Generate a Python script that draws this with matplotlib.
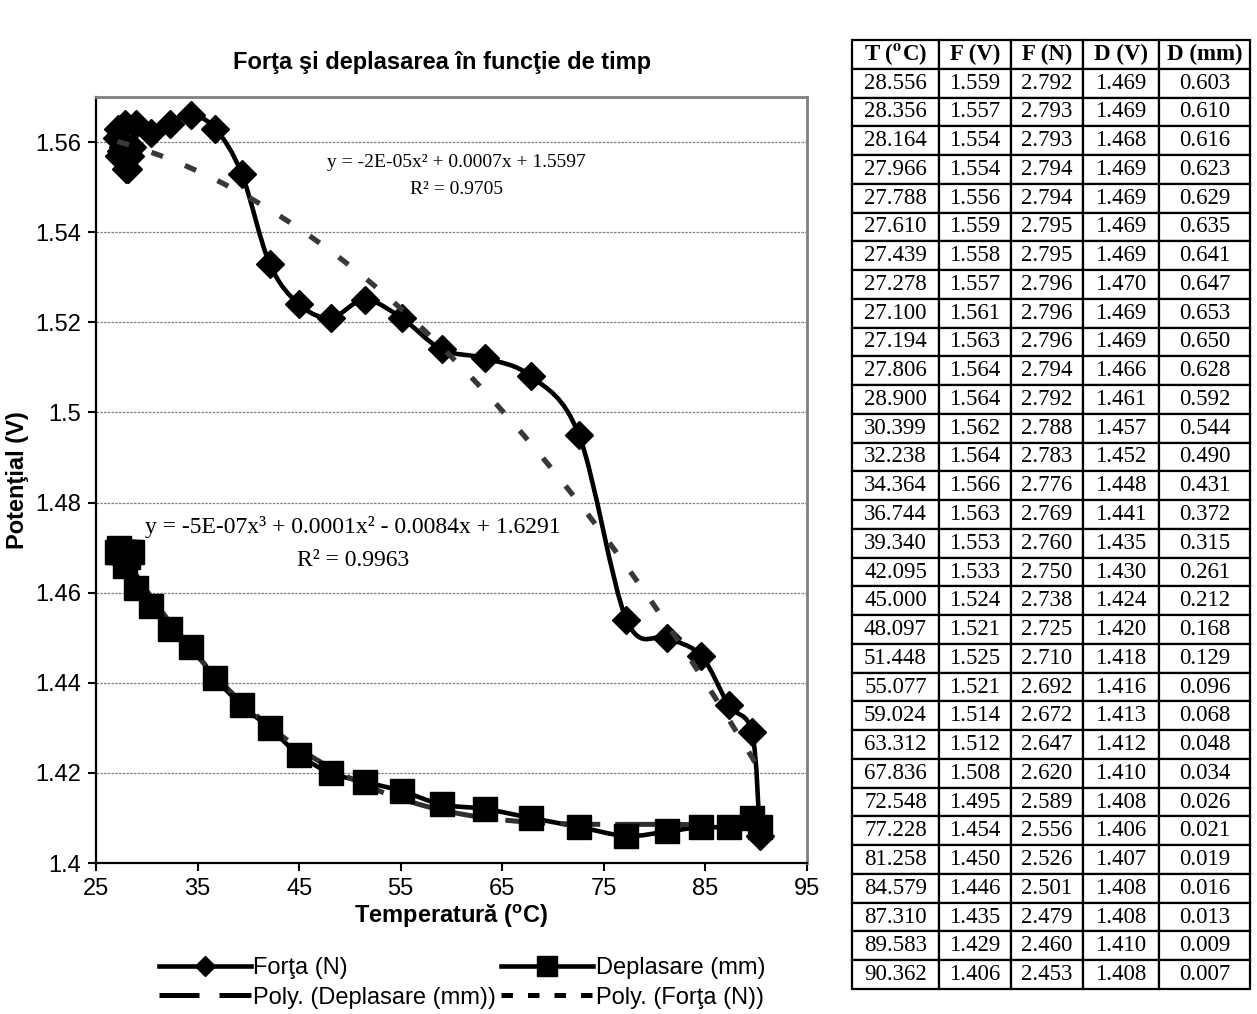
import numpy as np
import matplotlib
matplotlib.use('Agg')
import matplotlib.pyplot as plt
from matplotlib.path import Path
from matplotlib.patches import PathPatch
from matplotlib.lines import Line2D
from matplotlib.ticker import FuncFormatter

plt.rcParams['font.family'] = ['Liberation Sans', 'DejaVu Sans']
plt.rcParams['mathtext.fontset'] = 'custom'
plt.rcParams['mathtext.rm'] = 'Liberation Sans'
plt.rcParams['mathtext.bf'] = 'Liberation Sans:bold'
plt.rcParams['mathtext.it'] = 'Liberation Sans:italic'

# data (table on the right)
temp = [28.556, 28.356, 28.164, 27.966, 27.788, 27.610, 27.439, 27.278, 27.100, 27.194,
        27.806, 28.900, 30.399, 32.238, 34.364, 36.744, 39.340, 42.095, 45.000, 48.097,
        51.448, 55.077, 59.024, 63.312, 67.836, 72.548, 77.228, 81.258, 84.579, 87.310,
        89.583, 90.362]
forta_v = [1.559, 1.557, 1.554, 1.554, 1.556, 1.559, 1.558, 1.557, 1.561, 1.563,
           1.564, 1.564, 1.562, 1.564, 1.566, 1.563, 1.553, 1.533, 1.524, 1.521,
           1.525, 1.521, 1.514, 1.512, 1.508, 1.495, 1.454, 1.450, 1.446, 1.435,
           1.429, 1.406]
forta_n = [2.792, 2.793, 2.793, 2.794, 2.794, 2.795, 2.795, 2.796, 2.796, 2.796,
           2.794, 2.792, 2.788, 2.783, 2.776, 2.769, 2.760, 2.750, 2.738, 2.725,
           2.710, 2.692, 2.672, 2.647, 2.620, 2.589, 2.556, 2.526, 2.501, 2.479,
           2.460, 2.453]
depl_v = [1.469, 1.469, 1.468, 1.469, 1.469, 1.469, 1.469, 1.470, 1.469, 1.469,
          1.466, 1.461, 1.457, 1.452, 1.448, 1.441, 1.435, 1.430, 1.424, 1.420,
          1.418, 1.416, 1.413, 1.412, 1.410, 1.408, 1.406, 1.407, 1.408, 1.408,
          1.410, 1.408]
depl_mm = [0.603, 0.610, 0.616, 0.623, 0.629, 0.635, 0.641, 0.647, 0.653, 0.650,
           0.628, 0.592, 0.544, 0.490, 0.431, 0.372, 0.315, 0.261, 0.212, 0.168,
           0.129, 0.096, 0.068, 0.048, 0.034, 0.026, 0.021, 0.019, 0.016, 0.013,
           0.009, 0.007]
col_labels = ['T ($\\mathbf{^{o}}$C)', 'F (V)', 'F (N)', 'D (V)', 'D (mm)']

T = np.array(temp)
F = np.array(forta_v)
D = np.array(depl_v)


def smooth_path(x, y):
    # bezier path through the points (like excel "smoothed line")
    pts = np.column_stack([x, y])
    n = len(pts)
    verts = [pts[0]]
    codes = [Path.MOVETO]
    for i in range(n - 1):
        p0 = pts[i - 1] if i > 0 else pts[i]
        p1 = pts[i]
        p2 = pts[i + 1]
        p3 = pts[i + 2] if i + 2 < n else pts[i + 1]
        verts += [p1 + (p2 - p0) / 6, p2 - (p3 - p1) / 6, p2]
        codes += [Path.CURVE4] * 3
    return Path(verts, codes)


fig = plt.figure(figsize=(12.57, 10.14), dpi=100)
ax = fig.add_axes([0.0764, 0.1489, 0.5656, 0.7554])

ax.add_patch(PathPatch(smooth_path(T, F), fill=False, ec='black', lw=3.3, zorder=3,
                       capstyle='round', joinstyle='round'))
ax.add_patch(PathPatch(smooth_path(T, D), fill=False, ec='black', lw=3.3, zorder=3,
                       capstyle='round', joinstyle='round'))
ax.plot(T, F, ls='none', marker='D', ms=14.5, color='black', zorder=4)
ax.plot(T, D, ls='none', marker='s', ms=17, color='black', zorder=4)

# trendlines
xt = np.linspace(T.min(), T.max(), 300)
cf = np.polyfit(T, F, 2)
cd = np.polyfit(T, D, 3)
ax.plot(xt, np.polyval(cd, xt), color='#303030', lw=3.6, dashes=(8, 3), zorder=3.5)
ax.plot(xt, np.polyval(cf, xt), color='#383838', lw=3.8, dashes=(2.3, 4.5), zorder=5)

ax.text(60.5, 1.5555, 'y = -2E-05x² + 0.0007x + 1.5597', family='Liberation Serif',
        fontsize=14, ha='center', va='center')
ax.text(60.5, 1.5495, 'R² = 0.9705', family='Liberation Serif',
        fontsize=14, ha='center', va='center')
ax.text(50.3, 1.4745, 'y = -5E-07x³ + 0.0001x² - 0.0084x + 1.6291', family='Liberation Serif',
        fontsize=17, ha='center', va='center')
ax.text(50.3, 1.4671, 'R² = 0.9963', family='Liberation Serif',
        fontsize=17, ha='center', va='center')

ax.set_xlim(25, 95)
ax.set_ylim(1.4, 1.57)
ax.set_xticks(np.arange(25, 96, 10))
ax.set_yticks(np.arange(1.40, 1.5601, 0.02))
ax.yaxis.set_major_formatter(FuncFormatter(lambda v, p: f'{v:g}'))
ax.tick_params(labelsize=17, length=6, width=1.5, direction='out', pad=5)
ax.grid(axis='y', color='#808080', lw=0.9, ls=(0, (2, 1)))
ax.set_axisbelow(True)
for s in ['top', 'right']:
    ax.spines[s].set_color('#808080')
    ax.spines[s].set_linewidth(2)
for s in ['left', 'bottom']:
    ax.spines[s].set_color('black')
    ax.spines[s].set_linewidth(1.6)

ax.set_xlabel('Temperatură ($\\mathbf{^{o}}$C)', fontsize=17, fontweight='bold', labelpad=2)
ax.set_ylabel('Potenţial (V)', fontsize=17, fontweight='bold')
ax.yaxis.set_label_coords(-0.094, 0.5)
fig.text(442 / 1257, 1 - 63 / 1014, 'Forţa şi deplasarea în funcţie de timp',
         fontsize=17, fontweight='bold', ha='center', va='center')

handles = [
    Line2D([], [], color='black', lw=3.3, marker='D', ms=10),
    Line2D([], [], color='black', lw=3.6, dashes=(8, 4)),
    Line2D([], [], color='black', lw=3.3, marker='s', ms=14),
    Line2D([], [], color='black', lw=3.6, dashes=(2.3, 3)),
]
labels = ['Forţa (N)', 'Poly. (Deplasare (mm))', 'Deplasare (mm)', 'Poly. (Forţa (N))']
fig.legend(handles, labels, ncol=2, loc='center', bbox_to_anchor=(462 / 1257, 1 - 983 / 1014),
           frameon=False, fontsize=17, handlelength=3.9, handletextpad=0.12,
           columnspacing=0.2, labelspacing=0.3)

# table
tax = fig.add_axes([0.6778, 0.02465, 0.3166, 0.9359])
tax.axis('off')
rows = [[f'{a:.3f}', f'{b:.3f}', f'{c:.3f}', f'{d:.3f}', f'{e:.3f}']
        for a, b, c, d, e in zip(temp, forta_v, forta_n, depl_v, depl_mm)]
widths = np.array([87, 72, 72, 76, 91]) / 398
tbl = tax.table(cellText=rows, colLabels=col_labels, colWidths=widths,
                cellLoc='center', bbox=[0, 0, 1, 1])
tbl.auto_set_font_size(False)
for (r, c), cell in tbl.get_celld().items():
    cell.set_linewidth(1.6)
    cell.set_edgecolor('black')
    txt = cell.get_text()
    txt.set_fontfamily('Liberation Serif')
    txt.set_fontsize(16.5)
    txt.set_math_fontfamily('stix')
    if r == 0:
        txt.set_fontweight('bold')

fig.savefig('out.png', dpi=100)
